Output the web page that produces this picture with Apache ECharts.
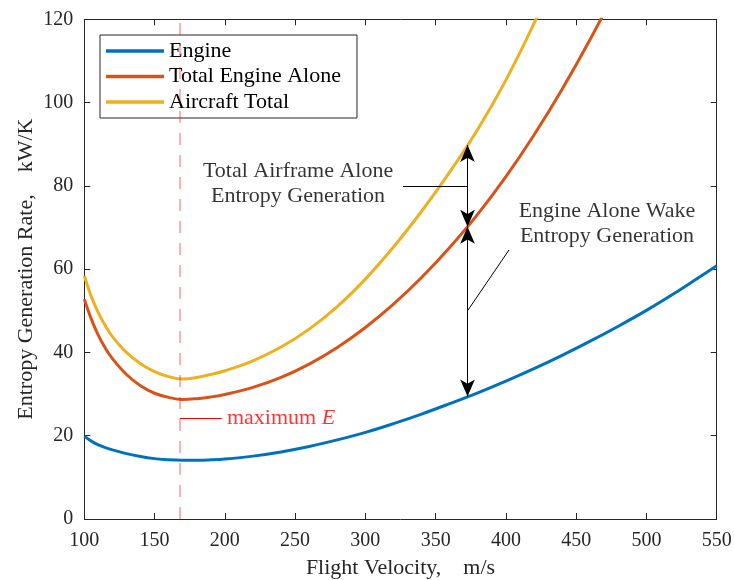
<!DOCTYPE html>
<html>
<head>
<meta charset="utf-8">
<script src="https://cdn.jsdelivr.net/npm/echarts@6/dist/echarts.min.js"></script>
<style>
  html, body { margin: 0; padding: 0; background: #fff; }
  #chart { width: 734px; height: 580px; }
</style>
</head>
<body>
<div id="chart"></div>
<script>
// Flight velocity samples (m/s)
const velocity = [100, 105, 110, 115, 120, 130, 140, 150, 160, 170, 180, 190, 200, 220, 240, 260, 280, 300, 320, 340, 360, 380, 400, 420, 440, 460, 480, 500, 520, 540, 550];

// Entropy generation rates (kW/K)
const engine = [19.9, 18.7, 17.8, 17.15, 16.6, 15.7, 15.0, 14.5, 14.2, 14.1, 14.1, 14.2, 14.4, 15.1, 16.1, 17.4, 19.0, 20.8, 22.9, 25.2, 27.7, 30.3, 33.1, 36.1, 39.3, 42.7, 46.3, 50.1, 54.2, 58.6, 60.8];
const totalEngineAlone = [52.8, 48.0, 44.1, 41.0, 38.5, 34.7, 32.0, 30.2, 29.2, 28.7, 28.9, 29.3, 29.9, 31.6, 34.0, 37.2, 41.2, 46.0, 51.6, 58.0, 65.2, 73.2, 82.2, 92.2, 103.2, 115.2, 128.2, null, null, null, null];
const aircraftTotal = [58.4, 53.4, 49.5, 46.4, 43.8, 40.0, 37.3, 35.4, 34.2, 33.6, 34.0, 34.7, 35.6, 38.0, 41.3, 45.6, 51.0, 57.6, 65.3, 73.9, 83.3, 93.6, 105.4, 119.0, 134.4, null, null, null, null, null, null];

const seriesNames = ['Engine', 'Total Engine Alone', 'Aircraft Total'];
const seriesColors = ['#0072BD', '#D95319', '#EDB120'];

// Axis ranges and tick spacing
const xRange = [100, 550, 50];
const yRange = [0, 120, 20];

// Annotation values
const maxEVelocity = 168;          // dashed marker velocity
const maxEMarkLevel = 24.2;        // level of the short red tick
const maxEMarkEnd = 197.8;
const maxETextAt = [201.5, 24.2];
const arrowVelocity = 372.7;
const arrowLevels = [29.4, 70.2, 89.8]; // engine, total engine alone, aircraft total
const airframeLeader = [[326.8, 80.0], [372.7, 80.0]];
const wakeLeader = [[372.7, 50.0], [402.2, 64.6]];
const airframeTextAt = [252.1, 80.5];
const wakeTextAt = [471.9, 70.8];

const FONT = '"Liberation Serif", "Times New Roman", serif';
const AXIS_COLOR = '#262626';

const pairs = (ys) => velocity.map((v, i) => [v, ys[i]]);

const chart = echarts.init(document.getElementById('chart'), null, { renderer: 'canvas' });

const baseX = {
  type: 'value', min: xRange[0], max: xRange[1], interval: xRange[2],
  axisLine: { show: true, onZero: false, lineStyle: { color: AXIS_COLOR, width: 1 } },
  axisTick: { show: true, inside: true, length: 6, lineStyle: { color: AXIS_COLOR } },
  splitLine: { show: false }
};
const baseY = {
  type: 'value', min: yRange[0], max: yRange[1], interval: yRange[2],
  axisLine: { show: true, onZero: false, lineStyle: { color: AXIS_COLOR, width: 1 } },
  axisTick: { show: true, inside: true, length: 6, lineStyle: { color: AXIS_COLOR } },
  splitLine: { show: false }
};

const arrowEnd = (v, y) => ({ coord: [v, y], symbol: 'arrow', symbolSize: [11, 17] });
const plainEnd = (pt) => ({ coord: pt, symbol: 'none' });

const lineSeries = (i, ys) => ({
  name: seriesNames[i], type: 'line', data: pairs(ys), z: 2,
  showSymbol: false, smooth: 0.4, clip: true, connectNulls: false,
  lineStyle: { color: seriesColors[i], width: 3 }, itemStyle: { color: seriesColors[i] }
});

const option = {
  animation: false,
  backgroundColor: '#fff',
  textStyle: { fontFamily: FONT },
  grid: { left: 84.3, right: 17.3, top: 19.3, bottom: 61, containLabel: false, outerBoundsMode: 'none' },
  legend: {
    data: seriesNames,
    orient: 'vertical',
    left: 100, top: 35,
    padding: [5, 16, 5, 6],
    itemGap: 3.5,
    itemWidth: 58, itemHeight: 3.5,
    icon: 'rect',
    backgroundColor: '#fff',
    borderColor: '#262626', borderWidth: 1, borderRadius: 0,
    textStyle: { fontFamily: FONT, fontSize: 22, color: '#000', lineHeight: 22 }
  },
  xAxis: [
    Object.assign({}, baseX, {
      position: 'bottom',
      name: 'Flight Velocity,    m/s', nameLocation: 'middle', nameGap: 38,
      nameTextStyle: { fontFamily: FONT, fontSize: 22, color: '#262626' },
      axisLabel: { show: true, margin: 12, fontFamily: FONT, fontSize: 20, color: '#262626' }
    }),
    Object.assign({}, baseX, { position: 'top', axisLabel: { show: false } })
  ],
  yAxis: [
    Object.assign({}, baseY, {
      position: 'left',
      name: 'Entropy Generation Rate,    kW/K', nameLocation: 'middle', nameGap: 47,
      nameMoveOverlap: false,
      nameTextStyle: { fontFamily: FONT, fontSize: 22, color: '#262626' },
      axisLabel: { show: true, margin: 11, fontFamily: FONT, fontSize: 20, color: '#262626' }
    }),
    Object.assign({}, baseY, { position: 'right', axisLabel: { show: false } })
  ],
  series: [
    {
      name: 'maxE', type: 'line', data: [], z: 1, silent: true,
      markLine: {
        silent: true, animation: false, symbol: 'none',
        label: { show: false },
        lineStyle: { color: 'rgba(255,0,0,0.38)', width: 1.6, type: [12, 10] },
        data: [{ xAxis: maxEVelocity }]
      }
    },
    lineSeries(0, engine),
    lineSeries(1, totalEngineAlone),
    lineSeries(2, aircraftTotal),
    {
      name: 'annotations', type: 'line', data: [], z: 5, silent: true,
      markLine: {
        silent: true, animation: false, symbol: 'none', precision: 3,
        label: { show: false },
        lineStyle: { color: '#000', width: 1, type: 'solid' },
        data: [
          [arrowEnd(arrowVelocity, arrowLevels[1]), arrowEnd(arrowVelocity, arrowLevels[2])],
          [arrowEnd(arrowVelocity, arrowLevels[1]), arrowEnd(arrowVelocity, arrowLevels[0])],
          [plainEnd(airframeLeader[0]), plainEnd(airframeLeader[1])],
          [plainEnd(wakeLeader[0]), plainEnd(wakeLeader[1])],
          [
            { coord: [maxEVelocity, maxEMarkLevel], symbol: 'none', lineStyle: { color: '#ff0000', width: 1 } },
            { coord: [maxEMarkEnd, maxEMarkLevel], symbol: 'none' }
          ]
        ]
      }
    },
    {
      name: 'labels', type: 'scatter', z: 6, silent: true, symbolSize: 0,
      data: [
        { value: airframeTextAt, label: { show: true, position: 'inside', align: 'center', verticalAlign: 'middle',
            formatter: 'Total Airframe Alone\nEntropy Generation', lineHeight: 25 } },
        { value: wakeTextAt, label: { show: true, position: 'inside', align: 'center', verticalAlign: 'middle',
            formatter: 'Engine Alone Wake\nEntropy Generation', lineHeight: 25 } },
        { value: maxETextAt, label: { show: true, position: 'inside', align: 'left', verticalAlign: 'middle',
            formatter: '{n|maximum }{i|E}',
            rich: {
              n: { fontFamily: FONT, fontSize: 22, color: '#ff0000' },
              i: { fontFamily: FONT, fontSize: 22, color: '#ff0000', fontStyle: 'italic' }
            } } }
      ],
      label: { fontFamily: FONT, fontSize: 22, color: '#000' }
    }
  ]
};

chart.setOption(option);
</script>
</body>
</html>
